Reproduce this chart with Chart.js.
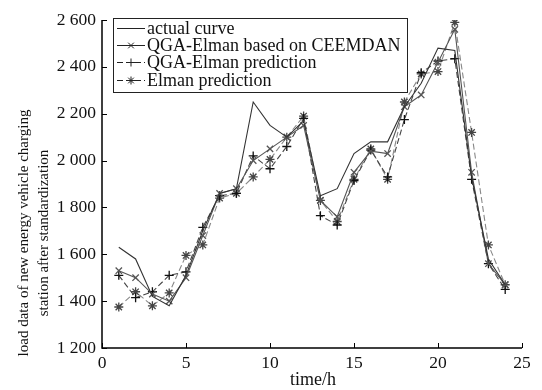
<!DOCTYPE html>
<html>
<head>
<meta charset="utf-8">
<script src="https://cdn.jsdelivr.net/npm/chart.js@4/dist/chart.umd.min.js"></script>
<style>
  html, body { margin:0; padding:0; background:#fff; }
  #wrap { position:relative; width:542px; height:390px; }
</style>
</head>
<body>
<div id="wrap"><canvas id="c" width="542" height="390"></canvas></div>
<script>
// hours on the x axis
const hours = [1,2,3,4,5,6,7,8,9,10,11,12,13,14,15,16,17,18,19,20,21,22,23,24];

// series
const actualCurve = [1630,1580,1420,1380,1510,1700,1860,1880,2250,2150,2100,2170,1850,1880,2030,2080,2080,2230,2330,2480,2470,1930,1580,1470];
const ceemdanQGA  = [1530,1500,1430,1400,1500,1680,1860,1880,2000,2050,2100,2150,1830,1760,1950,2040,2030,2230,2280,2420,2560,1950,1560,1470];
const qgaElman    = [1510,1415,1440,1510,1525,1715,1850,1860,2020,1965,2060,2180,1765,1725,1915,2045,1930,2175,2375,2425,2435,1920,1560,1450];
const elmanPred   = [1375,1440,1380,1435,1595,1640,1840,1860,1930,2005,2100,2190,1830,1740,1920,2050,1920,2250,2370,2380,2590,2120,1640,1470];

const yTicks = [1200,1400,1600,1800,2000,2200,2400,2600];
const xTicks = [0,5,10,15,20,25];

const FONT = '"Liberation Serif", "Times New Roman", serif';

function pts(arr){ return hours.map((h,i)=>({x:h, y:arr[i]})); }

const series = [
  { label:'actual curve', data:actualCurve, color:'#333', dash:[], style:false, pc:'#333' },
  { label:'QGA-Elman based on CEEMDAN', data:ceemdanQGA, color:'#555', dash:[], style:'crossRot', pc:'#555' },
  { label:'QGA-Elman prediction', data:qgaElman, color:'#444', dash:[6,3], style:'cross', pc:'#111' },
  { label:'Elman prediction', data:elmanPred, color:'#888', dash:[6,3], style:'star', pc:'#444' }
];

// inward ticks, axis titles and boxed legend
const decor = {
  id:'decor',
  afterDraw(chart){
    const ctx = chart.ctx, a = chart.chartArea;
    const xs = chart.scales.x, ys = chart.scales.y;
    ctx.save();
    ctx.strokeStyle = '#000';
    ctx.lineWidth = 1.5;
    ctx.beginPath();
    ctx.moveTo(a.left, a.top); ctx.lineTo(a.left, a.bottom); ctx.lineTo(a.right, a.bottom);
    ctx.stroke();
    ctx.lineWidth = 1;
    yTicks.forEach(v=>{
      const y = Math.round(ys.getPixelForValue(v)) + 0.5;
      ctx.beginPath(); ctx.moveTo(a.left, y); ctx.lineTo(a.left+5, y); ctx.stroke();
    });
    xTicks.forEach(v=>{
      const x = Math.round(xs.getPixelForValue(v)) + 0.5;
      ctx.beginPath(); ctx.moveTo(x, a.bottom); ctx.lineTo(x, a.bottom-5); ctx.stroke();
    });

    // titles
    ctx.fillStyle = '#111';
    ctx.textAlign = 'center';
    ctx.textBaseline = 'middle';
    ctx.font = '18px ' + FONT;
    ctx.fillText('time/h', 313, 380);
    ctx.font = '15px ' + FONT;
    ctx.save();
    ctx.translate(24, 233);
    ctx.rotate(-Math.PI/2);
    ctx.fillText('load data of new energy vehicle charging', 0, 0);
    ctx.fillText('station after standardization', 0, 20);
    ctx.restore();

    // legend
    const lx = 113, ly = 18, lw = 294, lh = 74;
    ctx.fillStyle = '#fff';
    ctx.fillRect(lx, ly, lw, lh);
    ctx.strokeStyle = '#222';
    ctx.lineWidth = 1;
    ctx.strokeRect(lx+0.5, ly+0.5, lw, lh);
    const rows = [28, 45, 62, 80];
    ctx.font = '18px ' + FONT;
    series.forEach((s,i)=>{
      const y = rows[i];
      ctx.strokeStyle = '#222';
      ctx.setLineDash(s.dash);
      ctx.beginPath(); ctx.moveTo(117, y+0.5); ctx.lineTo(145, y+0.5); ctx.stroke();
      ctx.setLineDash([]);
      if (s.style) {
        Chart.helpers.drawPoint(ctx, {pointStyle:s.style, radius:4, borderWidth:1}, 131, y+0.5);
      }
      ctx.fillStyle = '#111';
      ctx.textAlign = 'left';
      ctx.fillText(s.label, 147, y+1);
    });
    ctx.restore();
  }
};

new Chart(document.getElementById('c'), {
  type:'line',
  data:{
    datasets: series.map(s=>({
      label:s.label,
      data:pts(s.data),
      borderColor:s.color,
      borderWidth:1.1,
      borderDash:s.dash,
      pointStyle:s.style || 'circle',
      pointRadius:s.style ? 4.5 : 0,
      pointBorderColor:s.pc,
      pointBorderWidth:1.3,
      pointBackgroundColor:s.pc,
      tension:0
    }))
  },
  options:{
    responsive:false,
    animation:false,
    layout:{ padding:{ top:20, right:20, left:0, bottom:0 } },
    plugins:{ legend:{ display:false }, tooltip:{ enabled:false } },
    scales:{
      x:{
        type:'linear', min:0, max:25,
        afterBuildTicks(sc){ sc.ticks = xTicks.map(v=>({value:v})); },
        afterFit(sc){ sc.height = 42; },
        grid:{ display:false, drawTicks:false },
        border:{ display:false },
        ticks:{ color:'#111', font:{ family:FONT, size:17.5 }, padding:5, maxRotation:0 }
      },
      y:{
        min:1200, max:2600,
        afterBuildTicks(sc){ sc.ticks = yTicks.map(v=>({value:v})); },
        afterFit(sc){ sc.width = 102; },
        grid:{ display:false, drawTicks:false },
        border:{ display:false },
        ticks:{
          color:'#111', font:{ family:FONT, size:17.5 }, padding:6,
          callback:v=>String(v).replace(/\B(?=(\d{3})+$)/,' ')
        }
      }
    }
  },
  plugins:[decor]
});
</script>
</body>
</html>
